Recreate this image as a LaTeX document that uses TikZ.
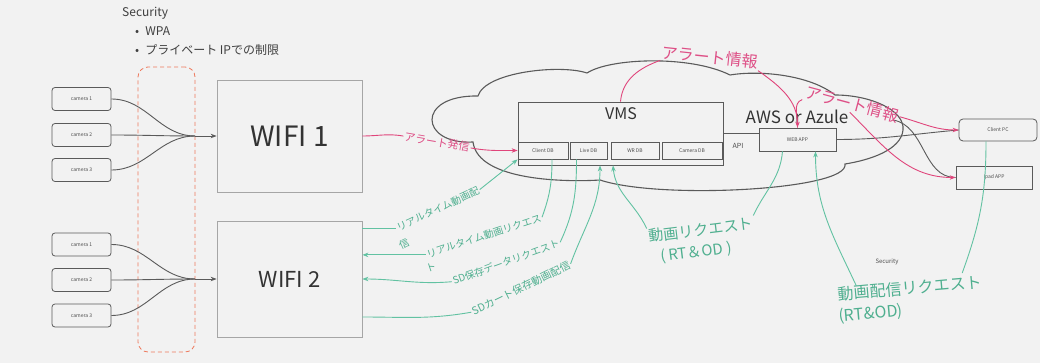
\documentclass[tikz,border=0pt]{standalone}
\usepackage{fontspec}
\setmainfont{Noto Sans CJK JP}
\usetikzlibrary{arrows.meta}
\definecolor{bg}{HTML}{F2F2F2}
\definecolor{pinkline}{HTML}{E0457B}
\definecolor{pinktext}{HTML}{DE4F86}
\definecolor{greenline}{HTML}{62C2A2}
\definecolor{greentext}{HTML}{4FAF8F}
\definecolor{dashred}{HTML}{EE7A5E}
\definecolor{boxgray}{HTML}{A6A6A6}
\definecolor{linegray}{HTML}{5A5A5A}
\newcommand{\fsz}[1]{\fontsize{#1}{#1}\selectfont}

\begin{document}
\begin{tikzpicture}[x=1pt,y=1pt,
  cam/.style={draw=linegray,line width=0.8pt,rounded corners=3pt,minimum width=59,minimum height=23,inner sep=0pt,font=\fsz{5},text=black!70},
  wifi/.style={draw=boxgray,line width=0.8pt,minimum width=145,inner sep=0pt,text=black!80},
  box/.style={draw=linegray,line width=0.8pt,inner sep=0pt,text=black!70},
  db/.style={box,minimum height=17,font=\fsz{5}},
  zone/.style={draw=dashred,line width=0.8pt,dash pattern=on 4pt off 3pt,rounded corners=10pt,minimum width=57,minimum height=285},
  cloudline/.style={draw=linegray,line width=1.1pt},
  feed/.style={draw=linegray,line width=0.9pt},
  alert/.style={draw=pinkline,line width=0.9pt},
  video/.style={draw=greenline,line width=0.9pt},
  alertlabel/.style={text=pinktext,inner sep=1pt},
  videolabel/.style={text=greentext,inner sep=1pt},
  head/.style={-{Stealth[length=6pt,width=4.5pt]}},
  gridline/.style={draw=black!5,line width=0.6pt}]
\fill[bg] (0,0) rectangle (1040,-363);
\useasboundingbox (0,0) rectangle (1040,-363);
\foreach \gx in {13,243,473,703,933} \draw[gridline] (\gx,0) -- (\gx,-363);
\foreach \gy in {32,262} \draw[gridline] (0,-\gy) -- (1040,-\gy);

% security note
\node[anchor=west,inner sep=0pt,font=\fsz{12},text=black!75] (sec) at (122,-13) {Security};
\node[anchor=west,inner sep=0pt,font=\fsz{12},text=black!75] (wpa) at (135,-31) {•\hspace{6pt}WPA};
\node[anchor=west,inner sep=0pt,font=\fsz{12},text=black!75] (ipr) at (135,-50) {•\hspace{6pt}プライベート IPでの制限};
\node[zone] (zone) at (166.5,-209.5) {};

% cameras and wifi
\node[cam] (c1) at (81.5,-99) {camera 1};
\node[cam] (c2) at (81.5,-135) {camera 2};
\node[cam] (c3) at (81.5,-170) {camera 3};
\node[cam] (c4) at (81.5,-244.5) {camera 1};
\node[cam] (c5) at (81.5,-280) {camera 2};
\node[cam] (c6) at (81.5,-315.5) {camera 3};
\node[wifi,minimum height=112,font=\fsz{28}] (wifi1) at (289.5,-136) {WIFI 1};
\node[wifi,minimum height=116,font=\fsz{22}] (wifi2) at (289.5,-279) {WIFI 2};
\coordinate (h1) at (195,-136);
\coordinate (h2) at (195,-279);
\foreach \c in {c1,c2,c3} \draw[feed] (\c.east) to[out=0,in=180] (h1);
\foreach \c in {c4,c5,c6} \draw[feed] (\c.east) to[out=0,in=180] (h2);
\draw[feed,head] (h1) -- (wifi1.west);
\draw[feed,head] (h2) -- (wifi2.west);

% cloud
\draw[cloudline] (473,-142) .. controls (420,-145) and (415,-95) .. (478,-96)
  .. controls (485,-72) and (560,-64) .. (587,-73)
  .. controls (610,-58) and (690,-55) .. (730,-75)
  .. controls (760,-70) and (810,-75) .. (835,-95)
  .. controls (870,-95) and (905,-110) .. (903,-130)
  .. controls (901,-150) and (870,-160) .. (845,-164)
  .. controls (850,-190) and (660,-200) .. (600,-180)
  .. controls (570,-182) and (478,-182) .. (473,-142) -- cycle;

% VMS and cloud side
\node[box,minimum width=205,minimum height=63] (vms) at (620.5,-133.5) {};
\node[font=\fsz{16},text=black!80] (vmsname) at (621,-114) {VMS};
\node[db,minimum width=50] (cdb) at (543,-150.5) {Client DB};
\node[db,minimum width=37] (ldb) at (588.5,-150.5) {Live DB};
\node[db,minimum width=48] (wdb) at (635,-150.5) {WR DB};
\node[db,minimum width=60] (camdb) at (692,-150.5) {Camera DB};
\node[font=\fsz{7},text=black!70] (api) at (738,-146) {API};
\node[font=\fsz{17},text=black!80] (aws) at (797,-117) {AWS or Azule};
\node[box,minimum width=77,minimum height=23,font=\fsz{5}] (web) at (797.5,-139.5) {WEB APP};
\node[box,rounded corners=4pt,minimum width=78,minimum height=22,font=\fsz{5}] (pc) at (998,-130) {Client PC};
\node[box,minimum width=76,minimum height=23,font=\fsz{5}] (ipad) at (994,-177.5) {Ipad APP};
\coordinate (cr) at (893,-120);
\draw[feed] (vms.east) to[out=0,in=180] ([yshift=6]web.west);
\draw[feed] (web.east) to[out=0,in=185] (pc.west);
\draw[feed] (cr) to[out=-10,in=180] (ipad.west);

% alerts
\node[alertlabel,font=\fsz{11},rotate=-10] (al1) at (437,-142) {アラート発信};
\node[alertlabel,font=\fsz{16},rotate=-6] (al2) at (710,-57) {アラート情報};
\node[alertlabel,font=\fsz{16},rotate=-15] (al3) at (852,-104) {アラート情報};
\draw[alert] (wifi1.east) to[out=0,in=170] (al1.west);
\draw[alert,head] (al1.east) to[out=-10,in=180] (cdb.west);
\draw[alert] (vms.north) to[out=85,in=200] (al2.south west);
\draw[alert,head] (al2.south east) to[out=-35,in=90] (web.north);
\draw[alert] (web.north) to[out=85,in=200] (al3.south west);
\draw[alert,head] (al3.east) to[out=-15,in=180] (pc.west);
\draw[alert,head] (al3.south) to[out=-45,in=180] (ipad.west);

% video requests
\node[videolabel,font=\fsz{10},rotate=25] (g1) at (438,-209) {リアルタイム動画配};
\node[videolabel,font=\fsz{10},rotate=25] (g1b) at (404,-244) {信};
\node[videolabel,font=\fsz{10},rotate=18] (g2) at (484,-236) {リアルタイム動画リクエス};
\node[videolabel,font=\fsz{10},rotate=18] (g2b) at (431,-267.5) {ト};
\node[videolabel,font=\fsz{10},rotate=20] (g3) at (506,-262) {SD保存データリクエスト};
\node[videolabel,font=\fsz{10.5},rotate=26] (g4) at (521,-288) {SDカート保存動画配信};
\node[videolabel,font=\fsz{15},rotate=7] (g5) at (701,-230) {動画リクエスト};
\node[videolabel,font=\fsz{15},rotate=7] (g5b) at (696,-253) {( RT＆OD )};
\node[videolabel,font=\fsz{16},rotate=5] (g6) at (910,-288) {動画配信リクエスト};
\node[videolabel,font=\fsz{16},rotate=5] (g6b) at (871,-314) {(RT\&OD)};
\node[font=\fsz{6},text=black!70] (sec2) at (887,-262) {Security};
\draw[video] (g1.west -| wifi2.east) -- (g1.west);
\draw[video,head] (g1.east) -- (cdb.south west);
\draw[video] ([xshift=9]cdb.south) to[out=-90,in=70] (g2.east);
\draw[video,head] (g2.west) -- (g2.west -| wifi2.east);
\draw[video] ([xshift=-12]ldb.south) to[out=-90,in=65] (g3.east);
\draw[video,head] (g3.west) to[out=185,in=0] (wifi2.east);
\draw[video] (g4.west) to[out=190,in=0] ([yshift=-38]wifi2.east);
\draw[video,head] (g4.east) to[out=70,in=-90] ([xshift=-20.5]vms.south);
\draw[video,head] (g5.north west) to[out=115,in=-85] ([xshift=-7.5]vms.south);
\draw[video] (g5.north east) to[out=65,in=-95] ([xshift=-15]web.south);
\draw[video,head] ([xshift=20]g6.north west) to[out=115,in=-90] ([xshift=18]web.south);
\draw[video] ([xshift=-12]pc.south) to[out=-90,in=70] ([xshift=-20]g6.north east);
\end{tikzpicture}
\end{document}
